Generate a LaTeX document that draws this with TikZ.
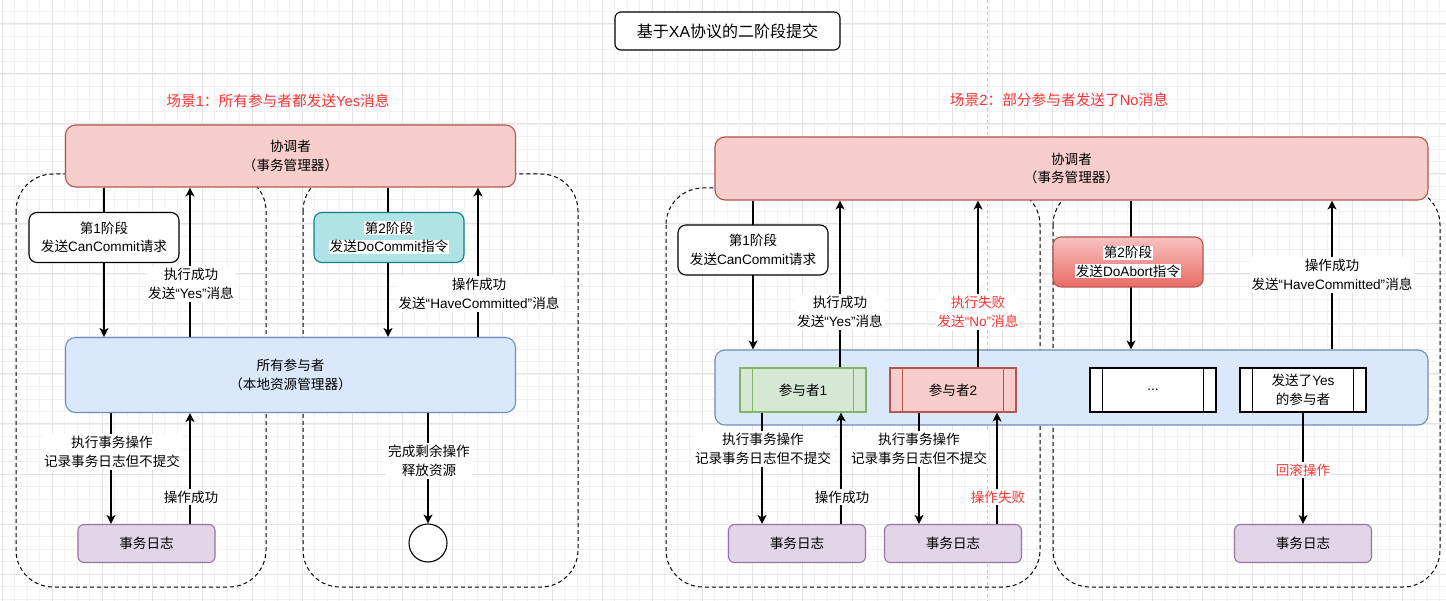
\documentclass[tikz,border=0pt]{standalone}
\usepackage{fontspec}
\setmainfont{Noto Sans CJK SC}
\newfontfamily\latf{Liberation Sans}
\newcommand{\ltn}[1]{{\latf #1}}
\newcommand{\wbg}[1]{{\setlength{\fboxsep}{0.8pt}\colorbox{white}{#1}}}
\usetikzlibrary{arrows.meta,shapes.geometric}
\definecolor{redtxt}{HTML}{FF3333}
\definecolor{coordFill}{HTML}{F8CECC}
\definecolor{coordStroke}{HTML}{B85450}
\definecolor{partFill}{HTML}{DAE8FC}
\definecolor{partStroke}{HTML}{6C8EBF}
\definecolor{logFill}{HTML}{E1D5E7}
\definecolor{logStroke}{HTML}{9673A6}
\definecolor{tealFill}{HTML}{B0E3E6}
\definecolor{tealStroke}{HTML}{0E8088}
\definecolor{greenFill}{HTML}{D5E8D4}
\definecolor{greenStroke}{HTML}{82B366}
\definecolor{abortTop}{HTML}{F6C3C0}
\definecolor{abortBot}{HTML}{EA6B66}
\definecolor{gridMinor}{HTML}{F1F1F1}
\definecolor{gridMajor}{HTML}{E3E3E3}
\tikzset{
  basefont/.style={font=\fontsize{13.6}{18.5}\selectfont},
  coordbox/.style={rectangle, rounded corners=10pt, draw=coordStroke, fill=coordFill, line width=1.1pt, align=center, inner sep=0pt, basefont},
  partbox/.style={rectangle, rounded corners=10pt, draw=partStroke, fill=partFill, line width=1.1pt, align=center, inner sep=0pt, basefont},
  logbox/.style={rectangle, rounded corners=6pt, draw=logStroke, fill=logFill, line width=1.1pt, minimum width=137pt, minimum height=38pt, align=center, inner sep=0pt, basefont},
  phasebox/.style={rectangle, rounded corners=8pt, line width=1.1pt, minimum width=150pt, minimum height=50pt, align=center, inner sep=0pt, basefont},
  procbox/.style={rectangle, line width=1.1pt, minimum width=126pt, minimum height=44pt, align=center, inner sep=0pt, basefont},
  endcircle/.style={circle, draw=black, fill=white, line width=1.1pt, minimum size=38pt, inner sep=0pt},
  lbl/.style={fill=white, align=center, inner sep=2pt, basefont},
  redlbl/.style={lbl, text=redtxt},
  scen/.style={text=redtxt, inner sep=0pt, font=\fontsize{14.7}{18}\selectfont},
  titlebox/.style={rectangle, rounded corners=6pt, draw=black, fill=white, line width=1.1pt, minimum width=225pt, minimum height=38pt, inner sep=0pt, font=\fontsize{16}{20}\selectfont},
  arr/.style={draw=black, line width=1.1pt, -{Stealth[length=9pt,width=9pt,inset=2.5pt]}},
  container/.style={draw=black, dash pattern=on 4pt off 3pt, line width=1pt, rounded corners=37pt},
  gminor/.style={draw=gridMinor, line width=0.8pt},
  gmajor/.style={draw=gridMajor, line width=1pt},
  pagebreak/.style={draw=black!22, dash pattern=on 3pt off 3pt, line width=0.8pt},
  procline/.style={line width=1.1pt},
}
\begin{document}
\begin{tikzpicture}[x=1pt,y=-1pt]
\useasboundingbox (0,0) rectangle (1446,601);
\fill[white] (0,0) rectangle (1446,601);
% grid
\foreach \i in {0,...,117} \draw[gminor] ({-10.5+\i*12.5},0) -- ({-10.5+\i*12.5},601);
\foreach \i in {0,...,49} \draw[gminor] (0,{-1+\i*12.5}) -- (1446,{-1+\i*12.5});
\foreach \i in {0,...,29} \draw[gmajor] ({2+\i*50},0) -- ({2+\i*50},601);
\foreach \i in {0,...,11} \draw[gmajor] (0,{24+\i*50}) -- (1446,{24+\i*50});
\draw[pagebreak] (987,0) -- (987,601);

% dashed containers
\draw[container] (16,174) rectangle (266,587);
\draw[container] (303,174) rectangle (578,587);
\draw[container] (666,188) rectangle (1040,587);
\draw[container] (1053,188) rectangle (1440,587);

% titles
\node[titlebox] (title) at (727.5,31) {基于\ltn{XA}协议的二阶段提交};
\node[scen] (s1) at (278,101) {场景\ltn{1}：所有参与者都发送\ltn{Yes}消息};
\node[scen] (s2) at (1059,100) {场景\ltn{2}：部分参与者发送了\ltn{No}消息};

% scene 1 nodes
\node[coordbox, minimum width=450pt, minimum height=62pt] (coordL) at (290.5,156) {协调者\\（事务管理器）};
\node[partbox, minimum width=450pt, minimum height=75pt] (partL) at (290.5,375) {所有参与者\\（本地资源管理器）};
\node[logbox] (logL) at (146.5,543.5) {事务日志};
\node[endcircle] (endc) at (428,543) {};

% scene 2 nodes
\node[coordbox, minimum width=713pt, minimum height=63pt] (coordR) at (1071.5,168.5) {协调者\\（事务管理器）};
\node[partbox, minimum width=713pt, minimum height=75pt] (partR) at (1071.5,387.5) {};
\node[procbox, fill=greenFill, draw=greenStroke] (p1) at (803,390) {参与者\ltn{1}};
\node[procbox, fill=coordFill, draw=coordStroke] (p2) at (953,390) {参与者\ltn{2}};
\node[procbox, fill=white, draw=black] (p3) at (1153,390) {\ltn{...}};
\node[procbox, fill=white, draw=black] (p4) at (1303,390) {发送了\ltn{Yes}\\的参与者};
\draw[procline, greenStroke] ([xshift=13pt]p1.north west) -- ([xshift=13pt]p1.south west);
\draw[procline, greenStroke] ([xshift=-13pt]p1.north east) -- ([xshift=-13pt]p1.south east);
\draw[procline, coordStroke] ([xshift=13pt]p2.north west) -- ([xshift=13pt]p2.south west);
\draw[procline, coordStroke] ([xshift=-13pt]p2.north east) -- ([xshift=-13pt]p2.south east);
\draw[procline, black] ([xshift=13pt]p3.north west) -- ([xshift=13pt]p3.south west);
\draw[procline, black] ([xshift=-13pt]p3.north east) -- ([xshift=-13pt]p3.south east);
\draw[procline, black] ([xshift=13pt]p4.north west) -- ([xshift=13pt]p4.south west);
\draw[procline, black] ([xshift=-13pt]p4.north east) -- ([xshift=-13pt]p4.south east);
\node[logbox] (logR1) at (797,543.5) {事务日志};
\node[logbox] (logR2) at (953,543.5) {事务日志};
\node[logbox] (logR3) at (1303,543.5) {事务日志};

% x positions of connectors
\coordinate (xa) at (104,0);
\coordinate (xb) at (190,0);
\coordinate (xc) at (388,0);
\coordinate (xd) at (478,0);
\coordinate (xe) at (111,0);
\coordinate (xr1) at (753,0);
\coordinate (xr2) at (840,0);
\coordinate (xr3) at (978,0);
\coordinate (xr4) at (1131,0);
\coordinate (xr5) at (1332,0);
\coordinate (xr6) at (762,0);
\coordinate (xr7) at (841,0);
\coordinate (xr8) at (919,0);
\coordinate (xr9) at (997,0);

% scene 1 connectors
\draw[arr] (coordL.south -| xa) -- (partL.north -| xa);
\draw[arr] (partL.north -| xb) -- (coordL.south -| xb);
\draw[arr] (coordL.south -| xc) -- (partL.north -| xc);
\draw[arr] (partL.north -| xd) -- (coordL.south -| xd);
\draw[arr] (partL.south -| xe) -- (logL.north -| xe);
\draw[arr] (logL.north -| xb) -- (partL.south -| xb);
\draw[arr] (partL.south -| endc.north) -- (endc.north);

% scene 2 connectors
\draw[arr] (coordR.south -| xr1) -- (partR.north -| xr1);
\draw[arr] (p1.north -| xr2) -- (coordR.south -| xr2);
\draw[arr] (p2.north -| xr3) -- (coordR.south -| xr3);
\draw[arr] (coordR.south -| xr4) -- (partR.north -| xr4);
\draw[arr] (partR.north -| xr5) -- (coordR.south -| xr5);
\draw[arr] (p1.south -| xr6) -- (logR1.north -| xr6);
\draw[arr] (logR1.north -| xr7) -- (p1.south -| xr7);
\draw[arr] (p2.south -| xr8) -- (logR2.north -| xr8);
\draw[arr] (logR2.north -| xr9) -- (p2.south -| xr9);
\draw[arr] (p4.south) -- (logR3.north);

% phase boxes on connectors
\node[phasebox, fill=white, draw=black] (ph1L) at (104,237.5) {第\ltn{1}阶段\\发送\ltn{CanCommit}请求};
\node[phasebox, fill=tealFill, draw=tealStroke] (ph2L) at (389,237.5) {\wbg{第\ltn{2}阶段}\\\wbg{发送\ltn{DoCommit}指令}};
\node[phasebox, fill=white, draw=black] (ph1R) at (753,250) {第\ltn{1}阶段\\发送\ltn{CanCommit}请求};
\node[phasebox, top color=abortTop, bottom color=abortBot, draw=coordStroke] (ph2R) at (1128,262) {\wbg{第\ltn{2}阶段}\\\wbg{发送\ltn{DoAbort}指令}};

% connector labels, scene 1
\node[lbl] (lYesL) at (191,284) {执行成功\\发送\ltn{“Yes”}消息};
\node[lbl] (lHaveL) at (479,294) {操作成功\\发送\ltn{“HaveCommitted”}消息};
\node[lbl] (lExecL) at (112,452) {执行事务操作\\记录事务日志但不提交};
\node[lbl] (lOkL) at (191,497) {操作成功};
\node[lbl] (lDoneL) at (429,461) {完成剩余操作\\释放资源};

% connector labels, scene 2
\node[lbl] (lYesR) at (840,312) {执行成功\\发送\ltn{“Yes”}消息};
\node[redlbl] (lNoR) at (978,312) {执行失败\\发送\ltn{“No”}消息};
\node[lbl] (lHaveR) at (1332,275) {操作成功\\发送\ltn{“HaveCommitted”}消息};
\node[lbl] (lExec1) at (763,449) {执行事务操作\\记录事务日志但不提交};
\node[lbl] (lOk1) at (842,497) {操作成功};
\node[lbl] (lExec2) at (919,449) {执行事务操作\\记录事务日志但不提交};
\node[redlbl] (lFail) at (998,497) {操作失败};
\node[redlbl] (lRb) at (1303,470) {回滚操作};
\end{tikzpicture}
\end{document}
